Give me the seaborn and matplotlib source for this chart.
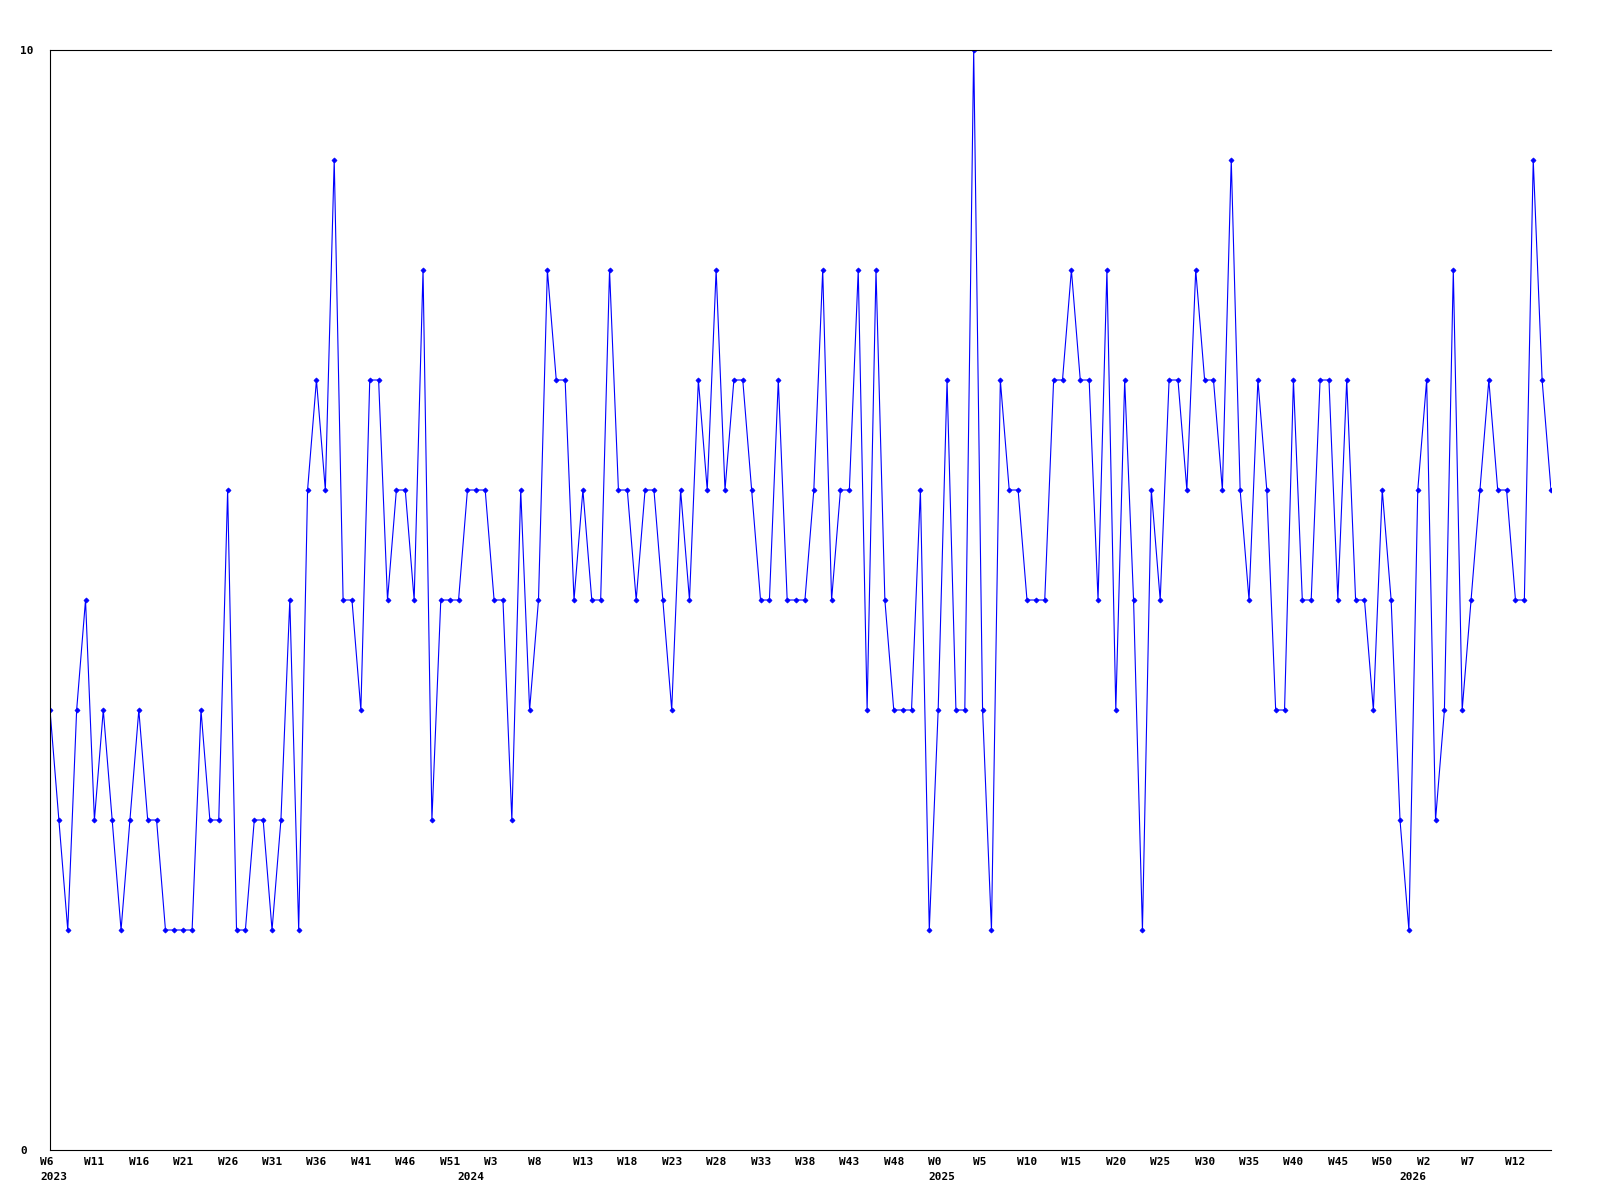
import matplotlib
matplotlib.use("Agg")
import matplotlib.pyplot as plt
import matplotlib.transforms as mtransforms
import seaborn as sns
import pandas as pd

# ---- data ----
values = [
    4, 3, 2, 4, 5, 3, 4, 3, 2, 3, 4, 3, 3, 2, 2, 2, 2, 4, 3, 3, 6, 2,
    2, 3, 3, 2, 3, 5, 2, 6, 7, 6, 9, 5, 5, 4, 7, 7, 5, 6, 6, 5, 8,
    3, 5, 5, 5, 6, 6, 6, 5, 5, 3, 6, 4, 5, 8, 7, 7, 5, 6, 5, 5, 8,
    6, 6, 5, 6, 6, 5, 4, 6, 5, 7, 6, 8, 6, 7, 7, 6, 5, 5, 7, 5, 5,
    5, 6, 8, 5, 6, 6, 8, 4, 8, 5, 4, 4, 4, 6, 2, 4, 7, 4, 4, 10,
    4, 2, 7, 6, 6, 5, 5, 5, 7, 7, 8, 7, 7, 5, 8, 4, 7, 5, 2, 6, 5,
    7, 7, 6, 8, 7, 7, 6, 9, 6, 5, 7, 6, 4, 4, 7, 5, 5, 7, 7, 5, 7,
    5, 5, 4, 6, 5, 3, 2, 6, 7, 3, 4, 8, 4, 5, 6, 7, 6, 6, 5, 5, 9, 7, 6,
]
week_labels = [
    "W6", "W11", "W16", "W21", "W26", "W31", "W36", "W41", "W46", "W51",
    "W3", "W8", "W13", "W18", "W23", "W28", "W33", "W38", "W43", "W48",
    "W0", "W5", "W10", "W15", "W20", "W25", "W30", "W35", "W40", "W45", "W50",
    "W2", "W7", "W12",
]
year_labels = ["2023", "2024", "2025", "2026"]
year_positions = [0, 47, 100, 153]
y_tick_values = [0, 10]

df = pd.DataFrame({"week": list(range(len(values))), "value": values})

# ---- figure ----
fig = plt.figure(figsize=(16, 12), dpi=100)
ax = fig.add_axes([50 / 1600, 50 / 1200, 1501 / 1600, 1100 / 1200])

sns.lineplot(data=df, x="week", y="value", ax=ax, color="#0000ff",
             linewidth=0.8, marker="D", markersize=2.6,
             markeredgecolor="#0000ff", markerfacecolor="#0000ff",
             markeredgewidth=0.5, legend=False)

ax.set_xlim(0, len(values) - 1)
ax.set_ylim(0, 10)
ax.set_xlabel("")
ax.set_ylabel("")

for side in ["left", "top", "bottom"]:
    ax.spines[side].set_visible(True)
    ax.spines[side].set_linewidth(0.8)
    ax.spines[side].set_color("black")
ax.spines["right"].set_visible(False)

font = dict(family="DejaVu Sans Mono", weight="bold", size=8)

# x ticks: every 5th point
xt = list(range(0, 5 * len(week_labels), 5))
ax.set_xticks(xt)
ax.set_xticklabels(week_labels, ha="left", va="top", **font)
ax.tick_params(axis="x", length=0, pad=5)
offset = mtransforms.ScaledTranslation(-10 / 100, 0, fig.dpi_scale_trans)
for lab in ax.get_xticklabels():
    lab.set_transform(lab.get_transform() + offset)

# year labels below the week labels
year_trans = mtransforms.blended_transform_factory(ax.transData, ax.transAxes)
year_offset = mtransforms.ScaledTranslation(-10 / 100, -22 / 100, fig.dpi_scale_trans)
for pos, yr in zip(year_positions, year_labels):
    ax.text(pos, 0, yr, transform=year_trans + year_offset,
            ha="left", va="top", clip_on=False, **font)

ax.set_yticks(y_tick_values)
ax.set_yticklabels([str(v) for v in y_tick_values], ha="left", **font)
ax.tick_params(axis="y", length=0, pad=21.6)

fig.savefig("out.png", dpi=100, facecolor="white")
